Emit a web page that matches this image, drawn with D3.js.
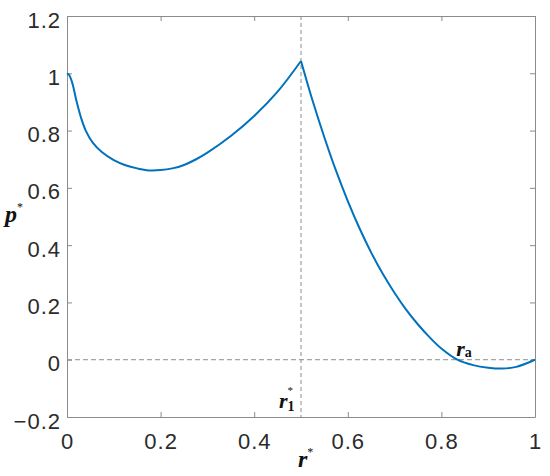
<!DOCTYPE html>
<html>
<head>
<meta charset="utf-8">
<script src="https://cdn.jsdelivr.net/npm/d3@7"></script>
<style>
  body { margin: 0; background: #fff; }
  .tick text { font-family: "Liberation Sans", Arial, sans-serif; font-size: 22px; fill: #2b2b2b; letter-spacing: 1px; }
  .axis path, .axis line { stroke: #8c8c8c; }
  .math { font-family: "Liberation Serif", "Times New Roman", serif; font-weight: bold; fill: #111; }
</style>
</head>
<body>
<div id="chart"></div>
<script>
// p* against r*; two branches meeting in a cusp at r1*
const rLeft = [0, 0.005, 0.012, 0.02, 0.03, 0.04, 0.055, 0.075, 0.1, 0.125, 0.15, 0.175, 0.2,
  0.225, 0.25, 0.275, 0.3, 0.35, 0.4, 0.45, 0.5];
const pLeft = [1.0, 0.993, 0.962, 0.905, 0.845, 0.8, 0.758, 0.724, 0.697, 0.679, 0.668, 0.661, 0.662,
  0.668, 0.68, 0.699, 0.723, 0.781, 0.851, 0.936, 1.043];
const rRight = [0.5, 0.525, 0.55, 0.575, 0.6, 0.625, 0.65, 0.675, 0.7, 0.725, 0.75, 0.775, 0.8,
  0.834, 0.868, 0.9, 0.93, 0.96, 1];
const pRight = [1.043, 0.903, 0.776, 0.659, 0.554, 0.459, 0.374, 0.299, 0.233, 0.174, 0.123, 0.078, 0.039,
  0, -0.019, -0.028, -0.031, -0.025, 0];
const xTicks = [0, 0.2, 0.4, 0.6, 0.8, 1];
const yTicks = [-0.2, 0, 0.2, 0.4, 0.6, 0.8, 1, 1.2];
const r1 = 0.5;      // vertical guide
const ra = 0.834;    // zero crossing label

const W = 550, H = 476;
const margin = { top: 16, right: 15, bottom: 59, left: 67 };
const width = W - margin.left - margin.right;
const height = H - margin.top - margin.bottom;

const svg = d3.select("#chart").append("svg")
  .attr("width", W).attr("height", H)
  .append("g")
  .attr("transform", `translate(${margin.left},${margin.top})`);

const x = d3.scaleLinear().domain([0, 1]).range([0, width]);
const y = d3.scaleLinear().domain([-0.2, 1.2]).range([height, 0]);
const fmt = d => d3.format("~g")(d);

// axes, ticks pointing inward like the original
svg.append("g").attr("class", "axis")
  .attr("transform", `translate(0,${height})`)
  .call(d3.axisBottom(x).tickValues(xTicks).tickFormat(fmt).tickSizeInner(-5).tickSizeOuter(0))
  .selectAll("text").attr("y", 32).attr("dy", 0);
svg.append("g").attr("class", "axis")
  .call(d3.axisLeft(y).tickValues(yTicks).tickFormat(fmt).tickSizeInner(-5).tickSizeOuter(0).tickPadding(6))
  .selectAll("text").attr("dy", 11);
svg.append("g").attr("class", "axis")
  .call(d3.axisTop(x).tickValues(xTicks).tickFormat("").tickSizeInner(-5).tickSizeOuter(0));
svg.append("g").attr("class", "axis")
  .attr("transform", `translate(${width},0)`)
  .call(d3.axisRight(y).tickValues(yTicks).tickFormat("").tickSizeInner(-5).tickSizeOuter(0));

// guides
svg.append("line")
  .attr("x1", x(0)).attr("x2", x(1)).attr("y1", y(0)).attr("y2", y(0))
  .attr("stroke", "#8f8f8f").attr("stroke-width", 1).attr("stroke-dasharray", "5,3");
svg.append("line")
  .attr("x1", x(r1)).attr("x2", x(r1)).attr("y1", y(1.2)).attr("y2", y(-0.2))
  .attr("stroke", "#8a8a8a").attr("stroke-width", 1).attr("stroke-dasharray", "4,3");

// curve, one path per branch so the peak stays sharp
const line = d3.line().x(d => x(d[0])).y(d => y(d[1])).curve(d3.curveCatmullRom.alpha(0.5));
[[rLeft, pLeft], [rRight, pRight]].forEach(([rs, ps]) => {
  svg.append("path")
    .datum(rs.map((r, i) => [r, ps[i]]))
    .attr("fill", "none")
    .attr("stroke", "#0072BD")
    .attr("stroke-width", 2)
    .attr("stroke-linejoin", "round")
    .attr("d", line);
});

// labels
const yl = svg.append("text").attr("class", "math")
  .attr("x", -62).attr("y", 206).attr("font-size", 24);
yl.append("tspan").attr("font-style", "italic").text("p");
yl.append("tspan").attr("font-size", 12).attr("dy", -11).attr("font-weight", "normal").text("*");

const xl = svg.append("text").attr("class", "math")
  .attr("x", x(0.5) - 3).attr("y", height + 50).attr("font-size", 24);
xl.append("tspan").attr("font-style", "italic").text("r");
xl.append("tspan").attr("font-size", 12).attr("dy", -11).attr("font-weight", "normal").text("*");

const r1l = svg.append("text").attr("class", "math")
  .attr("x", x(r1) - 22).attr("y", height - 9).attr("font-size", 22);
r1l.append("tspan").attr("font-style", "italic").text("r");
r1l.append("tspan").attr("font-size", 14).attr("dy", 3).text("1");
r1l.append("tspan").attr("font-size", 11).attr("dx", -7).attr("dy", -17).attr("font-weight", "normal").text("*");

const ral = svg.append("text").attr("class", "math")
  .attr("x", x(ra) - 1).attr("y", y(0) - 4).attr("font-size", 22);
ral.append("tspan").attr("font-style", "italic").text("r");
ral.append("tspan").attr("font-size", 14).attr("dy", 1).text("a");
</script>
</body>
</html>
